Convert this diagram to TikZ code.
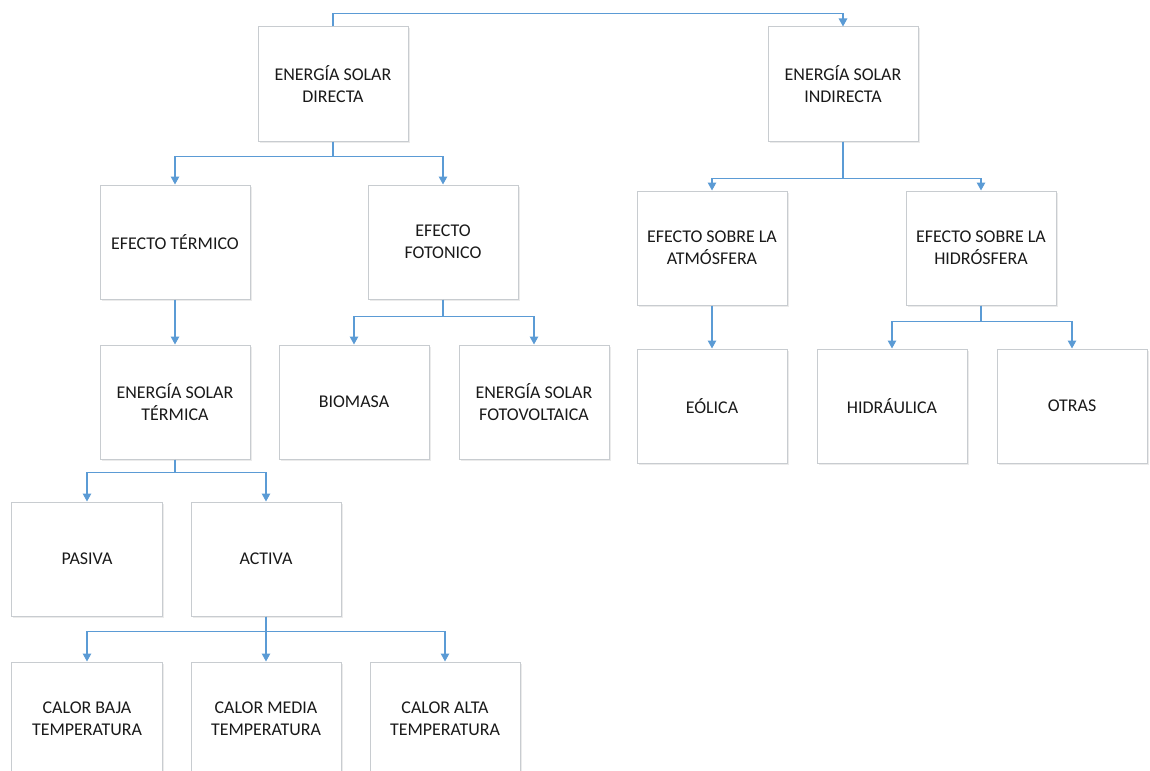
\documentclass[tikz,border=0pt]{standalone}
\usepackage{fontspec}
\setmainfont{Carlito}
\usetikzlibrary{arrows.meta,shadows}
\definecolor{boxline}{HTML}{C8CCD0}
\definecolor{conncol}{HTML}{5B9BD5}
\tikzset{
  box/.style={draw=boxline, line width=1bp, fill=white, minimum width=150bp, minimum height=114bp,
    inner sep=2bp, align=center, font=\fontsize{18}{22}\selectfont, text=black!90,
    drop shadow={shadow xshift=1.5bp, shadow yshift=-1.5bp, fill=black!8, opacity=1}},
  conn/.style={draw=conncol, line width=1.2bp, -{Triangle[width=8.5bp,length=8bp]}},
}
\begin{document}
\begin{tikzpicture}[x=1bp,y=-1bp]
\useasboundingbox (0,0) rectangle (1150,771);
\clip (0,0) rectangle (1150,771);
% level 1
\node[box] (directa) at (333,84) {ENERGÍA SOLAR\\DIRECTA};
\node[box] (indirecta) at (843,84) {ENERGÍA SOLAR\\INDIRECTA};
% level 2
\node[box] (termico) at (175,242) {EFECTO TÉRMICO};
\node[box] (fotonico) at (443,242) {EFECTO\\FOTONICO};
\node[box] (atmos) at (712,248) {EFECTO SOBRE LA\\ATMÓSFERA};
\node[box] (hidros) at (981,248) {EFECTO SOBRE LA\\HIDRÓSFERA};
% level 3
\node[box] (estermica) at (175,402) {ENERGÍA SOLAR\\TÉRMICA};
\node[box] (biomasa) at (354,402) {BIOMASA};
\node[box] (fotovolt) at (534,402) {ENERGÍA SOLAR\\FOTOVOLTAICA};
\node[box] (eolica) at (712,406) {EÓLICA};
\node[box] (hidraulica) at (892,406) {HIDRÁULICA};
\node[box] (otras) at (1072,406) {OTRAS};
% level 4
\node[box] (pasiva) at (87,559) {PASIVA};
\node[box] (activa) at (266,559) {ACTIVA};
% level 5
\node[box] (baja) at (87,719) {CALOR BAJA\\TEMPERATURA};
\node[box] (media) at (266,719) {CALOR MEDIA\\TEMPERATURA};
\node[box] (alta) at (445,719) {CALOR ALTA\\TEMPERATURA};
% connectors
\draw[conn] (directa.north) -- ([yshift=13bp]directa.north) -| (indirecta.north);
\draw[conn] (directa.south) -- ++(0,15) -| (termico.north);
\draw[conn] (directa.south) -- ++(0,15) -| (fotonico.north);
\draw[conn] (indirecta.south) -- ++(0,37) -| (atmos.north);
\draw[conn] (indirecta.south) -- ++(0,37) -| (hidros.north);
\draw[conn] (termico.south) -- (estermica.north);
\draw[conn] (fotonico.south) -- ++(0,17) -| (biomasa.north);
\draw[conn] (fotonico.south) -- ++(0,17) -| (fotovolt.north);
\draw[conn] (atmos.south) -- (eolica.north);
\draw[conn] (hidros.south) -- ++(0,16) -| (hidraulica.north);
\draw[conn] (hidros.south) -- ++(0,16) -| (otras.north);
\draw[conn] (estermica.south) -- ++(0,13) -| (pasiva.north);
\draw[conn] (estermica.south) -- ++(0,13) -| (activa.north);
\draw[conn] (activa.south) -- ++(0,15) -| (baja.north);
\draw[conn] (activa.south) -- (media.north);
\draw[conn] (activa.south) -- ++(0,15) -| (alta.north);
\end{tikzpicture}
\end{document}
